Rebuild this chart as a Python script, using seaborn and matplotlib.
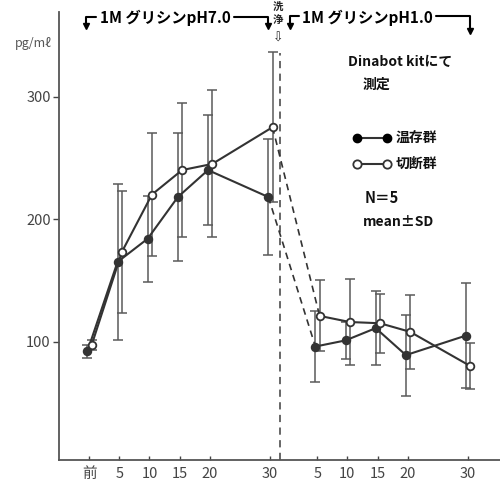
import matplotlib
matplotlib.use("Agg")
import matplotlib.pyplot as plt
import numpy as np
import pandas as pd
import seaborn as sns
from matplotlib.lines import Line2D

# 採血時点（分）
tick_labels = ["前", "5", "10", "15", "20", "30", "5", "10", "15", "20", "30"]
time_ph7 = [0, 5, 10, 15, 20, 30]
time_ph1 = [37.8, 42.8, 47.8, 52.8, 62.8]

# 温存群 (mean, SD)
preserved_ph7 = [92, 165, 184, 218, 240, 218]
preserved_ph7_sd = [5, 64, 35, 52, 45, 47]
preserved_ph1 = [96, 101, 111, 89, 105]
preserved_ph1_sd = [29, 15, 30, 33, 43]

# 切断群 (mean, SD)
cut_ph7 = [97, 173, 220, 240, 245, 275]
cut_ph7_sd = [4, 50, 50, 55, 60, 61]
cut_ph1 = [121, 116, 115, 108, 80]
cut_ph1_sd = [29, 35, 24, 30, 19]

W, H = 500, 482
INK = "#333333"
BAR = "#5a5a5a"

sns.set_theme(style="ticks")
plt.rcParams["font.family"] = ["Noto Sans CJK JP", "DejaVu Sans"]

fig = plt.figure(figsize=(W / 100, H / 100), dpi=100)
ax = fig.add_axes([59 / W, 1 - 460 / H, 1 - 59 / W, (460 - 12) / H])


def fx(px):
    return px / W


def fy(py):
    return 1 - py / H


groups = [
    ("温存群", preserved_ph7, preserved_ph7_sd, preserved_ph1, preserved_ph1_sd, INK, -0.3),
    ("切断群", cut_ph7, cut_ph7_sd, cut_ph1, cut_ph1_sd, "white", 0.4),
]

for name, v7, s7, v1, s1, face, dx in groups:
    x7 = np.array(time_ph7) + dx
    x1 = np.array(time_ph1) + dx
    df7 = pd.DataFrame({"time": x7, "value": v7})
    df1 = pd.DataFrame({"time": x1, "value": v1})
    ax.errorbar(x7, v7, yerr=s7, fmt="none", ecolor=BAR, elinewidth=1.1,
                capsize=3.5, capthick=1.1, zorder=1)
    ax.errorbar(x1, v1, yerr=s1, fmt="none", ecolor=BAR, elinewidth=1.1,
                capsize=3.5, capthick=1.1, zorder=1)
    # 洗浄をはさむ区間は破線で結ぶ
    bridge = pd.DataFrame({"time": [x7[-1], x1[0]], "value": [v7[-1], v1[0]]})
    sns.lineplot(data=bridge, x="time", y="value", ax=ax, color=INK, lw=1.2,
                 linestyle=(0, (4, 3)), zorder=2)
    for df in (df7, df1):
        sns.lineplot(data=df, x="time", y="value", ax=ax, color=INK, lw=1.5,
                     marker="o", markersize=5.5, markerfacecolor=face,
                     markeredgecolor=INK, markeredgewidth=1.3, zorder=3)

ax.axvline(31.7, ymin=0, ymax=(460 - 53) / (460 - 12), color=BAR, lw=1.3,
           linestyle=(0, (4, 3)), zorder=1)

ax.set_xlim(-5, 68.1)
ax.set_ylim(3.4, 369)
ax.set_xticks(time_ph7 + time_ph1)
ax.set_xticklabels(tick_labels)
ax.set_yticks([100, 200, 300])
ax.set_xlabel("")
ax.set_ylabel("")
ax.tick_params(axis="x", direction="in", length=3, width=1, colors="#444444",
               labelsize=10.5, pad=5)
ax.tick_params(axis="y", direction="out", length=4, width=1, colors="#444444",
               labelsize=10.5, pad=2)
for side in ("top", "right"):
    ax.spines[side].set_visible(False)
for side in ("left", "bottom"):
    ax.spines[side].set_color("#555555")
    ax.spines[side].set_linewidth(1.3)

# 単位
fig.text(fx(33), fy(43), "pg/mℓ", fontsize=9, ha="center", va="center",
         color="#555555")

# 処理区間の注記
fig.text(fx(100), fy(18), "1M グリシンpH7.0", fontsize=11, ha="left",
         va="center", color="black", fontweight="bold")
fig.text(fx(302), fy(18), "1M グリシンpH1.0", fontsize=11, ha="left",
         va="center", color="black", fontweight="bold")


def bracket(x0, x1, x2, y, ydown_left, ydown_right):
    kw = dict(color="black", lw=1.5, transform=fig.transFigure)
    fig.add_artist(Line2D([fx(x1), fx(x0), fx(x0)], [fy(y), fy(y), fy(ydown_left)], **kw))
    fig.add_artist(Line2D([fx(x2 - 34), fx(x2), fx(x2)], [fy(y), fy(y), fy(ydown_right)], **kw))
    for xx, yy in ((x0, ydown_left), (x2, ydown_right)):
        fig.add_artist(Line2D([fx(xx)], [fy(yy)], marker="v", markersize=5,
                              color="black", transform=fig.transFigure))


bracket(86, 96, 268, 17, 26, 26)
bracket(290, 299, 470, 16, 26, 31)

fig.text(fx(278), fy(7), "洗", fontsize=7.5, ha="center", va="center", fontweight="bold")
fig.text(fx(278), fy(20), "浄", fontsize=7.5, ha="center", va="center", fontweight="bold")
fig.text(fx(278), fy(38), "⇩", fontsize=9, ha="center", va="center",
         family=["DejaVu Sans"])

# 凡例と測定条件
note = dict(ha="left", va="center", color="#111111", fontweight="bold")
fig.text(fx(348), fy(62), "Dinabot kitにて", fontsize=10, **note)
fig.text(fx(363), fy(85), "測定", fontsize=10, **note)
fig.add_artist(Line2D([fx(357), fx(387)], [fy(138), fy(138)], color=INK, lw=1.5,
                      marker="o", markersize=6, markerfacecolor="black",
                      markeredgecolor="black", transform=fig.transFigure))
fig.add_artist(Line2D([fx(357), fx(387)], [fy(164), fy(164)], color=INK, lw=1.5,
                      marker="o", markersize=6, markerfacecolor="white",
                      markeredgecolor=INK, markeredgewidth=1.3,
                      transform=fig.transFigure))
fig.text(fx(396), fy(138), "温存群", fontsize=10, **note)
fig.text(fx(396), fy(164), "切断群", fontsize=10, **note)
fig.text(fx(365), fy(198), "N＝5", fontsize=10.5, **note)
fig.text(fx(363), fy(222), "mean±SD", fontsize=10, **note)

fig.savefig("out.png", dpi=100)
